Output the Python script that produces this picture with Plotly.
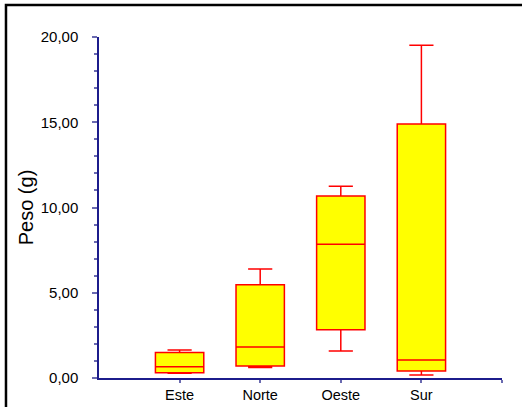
import plotly.graph_objects as go

# Weight summary per zone (g)
zonas = ["Este", "Norte", "Oeste", "Sur"]
posiciones = [1, 2, 3, 4]
minimo = [0.28, 0.62, 1.58, 0.18]
q1 = [0.31, 0.70, 2.83, 0.41]
mediana = [0.66, 1.82, 7.84, 1.06]
q3 = [1.50, 5.47, 10.67, 14.90]
maximo = [1.64, 6.39, 11.24, 19.51]

AXIS_BLUE = "#1c1c8c"
TICK_BLUE = "#6a6ab0"
FONT = "Liberation Sans, Arial, sans-serif"

fig = go.Figure()
fig.add_trace(go.Box(
    x=posiciones,
    q1=q1,
    median=mediana,
    q3=q3,
    lowerfence=minimo,
    upperfence=maximo,
    width=0.6,
    whiskerwidth=0.5,
    fillcolor="#ffff00",
    line=dict(color="#ff0000", width=1.5),
    boxpoints=False,
    hoverinfo="y",
    showlegend=False,
))

fig.update_layout(
    width=522,
    height=407,
    margin=dict(l=99, r=20, t=37, b=29),
    paper_bgcolor="white",
    plot_bgcolor="white",
    separators=",.",
    font=dict(family=FONT, color="black", size=15),
    xaxis=dict(
        range=[0, 5],
        automargin=False,
        tickmode="array",
        tickvals=posiciones + [5],
        ticktext=zonas + [""],
        showgrid=False,
        zeroline=False,
        showline=True,
        linecolor=AXIS_BLUE,
        linewidth=1.5,
        ticks="outside",
        ticklen=3,
        tickwidth=1.5,
        tickcolor=TICK_BLUE,
        tickfont=dict(size=14.5, color="black"),
        ticklabelstandoff=0,
    ),
    yaxis=dict(
        range=[0, 20],
        automargin=False,
        tickmode="linear",
        tick0=0,
        dtick=5,
        tickformat=".2f",
        showgrid=False,
        zeroline=False,
        showline=True,
        linecolor=AXIS_BLUE,
        linewidth=1.5,
        ticks="outside",
        ticklen=5,
        tickwidth=1.5,
        tickcolor=TICK_BLUE,
        minor=dict(dtick=1, ticks="outside", ticklen=3, tickwidth=1.5, tickcolor=TICK_BLUE),
        tickfont=dict(size=15, color="black"),
        ticklabelstandoff=11,
        title=dict(text="Peso (g)", font=dict(size=20, color="black"), standoff=2),
    ),
    shapes=[dict(
        type="rect", xref="paper", yref="paper",
        x0=-0.2308, x1=1.2, y0=-0.3, y1=1.0938,
        line=dict(color="black", width=2.5),
        fillcolor="rgba(0,0,0,0)",
        layer="above",
    )],
)

fig.write_html("out.html")
